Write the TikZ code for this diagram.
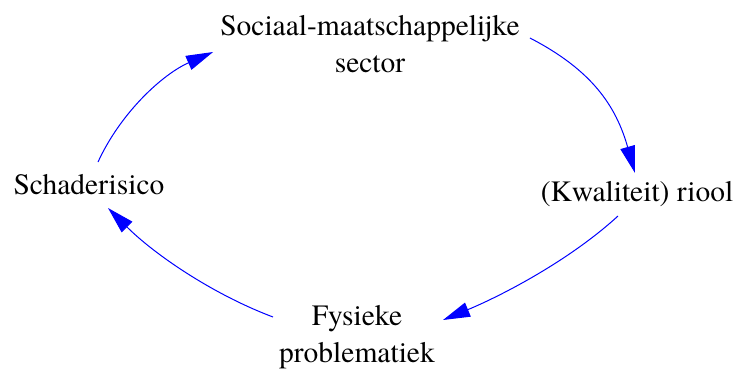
\documentclass[tikz,border=0pt]{standalone}
\usepackage{fontspec}
\setmainfont{texgyretermes-regular.otf}
\usetikzlibrary{arrows.meta}
\tikzset{
  lbl/.style={inner sep=0pt, align=center, font=\fontsize{29.5}{37}\selectfont, text=black},
  conn/.style={draw=blue, line width=1pt, -{Triangle[length=27pt,width=15pt]}, fill=none}
}
\begin{document}
\begin{tikzpicture}[x=1pt,y=1pt]
\useasboundingbox (0,0) rectangle (736,368);
\node[lbl, anchor=north] (top) at (370,353) {Sociaal-maatschappelijke\\sector};
\node[lbl, anchor=base] (kwal) at (637,167) {(Kwaliteit) riool};
\node[lbl, anchor=base] (schade) at (89,174) {Schaderisico};
\node[lbl, anchor=north] (fys) at (357,63) {Fysieke\\problematiek};
\draw[conn] ([shift={(10,-23)}]top.north east) .. controls +(62,-32) and +(-19,67) .. ([shift={(-2,28)}]kwal.base);
\draw[conn] ([shift={(-19,-15)}]kwal.base) .. controls +(-48,-44) and +(60,25) .. ([shift={(86,-15)}]fys.north);
\draw[conn] ([shift={(-84,-12)}]fys.north) .. controls +(-61,23) and +(46,-46) .. ([shift={(19,-14)}]schade.base);
\draw[conn] ([shift={(9,32)}]schade.base) .. controls +(23,50) and +(-50,-22) .. ([shift={(-7,-37)}]top.north west);
\end{tikzpicture}
\end{document}
